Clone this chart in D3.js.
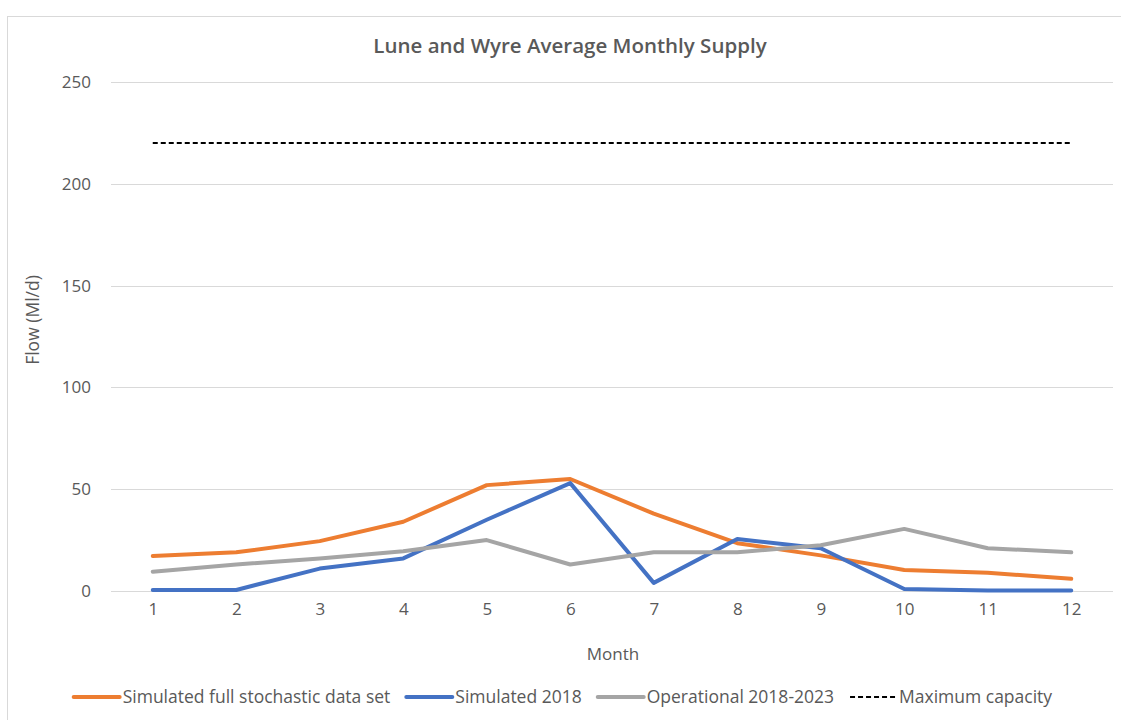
<!DOCTYPE html>
<html>
<head>
<meta charset="utf-8">
<script src="https://cdn.jsdelivr.net/npm/d3@7"></script>
<style>
  body { margin: 0; background: #fff; }
  text { font-family: "Open Sans", "Noto Sans", sans-serif; fill: #595959; }
</style>
</head>
<body>
<svg id="chart" width="1121" height="720"></svg>
<script>
var months = [1, 2, 3, 4, 5, 6, 7, 8, 9, 10, 11, 12];
var stochastic = [17.2, 19, 24.5, 34, 52, 55, 38, 23.5, 17.5, 10.3, 9, 6];
var sim2018 = [0.5, 0.5, 11, 16, 35, 53, 4, 25.5, 21, 1, 0.3, 0.3];
var operational = [9.5, 13, 16, 19.5, 25, 13, 19, 19, 22.5, 30.5, 21, 19];
var maxCapacity = [220, 220, 220, 220, 220, 220, 220, 220, 220, 220, 220, 220];
var yTicks = [0, 50, 100, 150, 200, 250];

var series = [
  {name: "Simulated full stochastic data set", values: stochastic, color: "#ED7D31", dash: null, w: 4},
  {name: "Simulated 2018", values: sim2018, color: "#4472C4", dash: null, w: 4},
  {name: "Operational 2018-2023", values: operational, color: "#A5A5A5", dash: null, w: 4},
  {name: "Maximum capacity", values: maxCapacity, color: "#000000", dash: "5,3", w: 2}
];

var svg = d3.select("#chart");

// chart frame
svg.append("rect").attr("x", 7.5).attr("y", 16.5).attr("width", 1130).attr("height", 720)
  .attr("fill", "none").attr("stroke", "#d9d9d9");

var x = d3.scalePoint().domain(months).range([111, 1113]).padding(0.5),
    y = d3.scaleLinear().domain([0, 250]).range([591, 82]);

// gridlines
svg.append("g").selectAll("line").data(yTicks).join("line")
  .attr("x1", 111).attr("x2", 1113)
  .attr("y1", d => Math.round(y(d)) + 0.5).attr("y2", d => Math.round(y(d)) + 0.5)
  .attr("stroke", "#d9d9d9").attr("stroke-width", 1);

// y axis labels
var ya = svg.append("g").attr("transform", "translate(91,0)")
  .call(d3.axisLeft(y).tickValues(yTicks).tickSize(0).tickPadding(0));
ya.select(".domain").remove();
ya.selectAll("text").attr("font-size", 17).style("font-family", "'Open Sans', sans-serif").attr("fill", "#595959");

// x axis labels
var xa = svg.append("g").attr("transform", "translate(0,600)")
  .call(d3.axisBottom(x).tickSize(0).tickPadding(0));
xa.select(".domain").remove();
xa.selectAll("text").attr("font-size", 17).style("font-family", "'Open Sans', sans-serif").attr("fill", "#595959").attr("dy", "0.9em");

// lines
var line = d3.line().x((d, i) => x(months[i])).y(d => y(d));
svg.append("g").selectAll("path").data(series).join("path")
  .attr("d", d => line(d.values))
  .attr("fill", "none")
  .attr("stroke", d => d.color)
  .attr("stroke-width", d => d.w)
  .attr("stroke-dasharray", d => d.dash)
  .attr("stroke-linejoin", "round")
  .attr("stroke-linecap", d => d.dash ? "butt" : "round");

// titles
svg.append("text").attr("x", 570).attr("y", 53).attr("text-anchor", "middle")
  .attr("font-size", 20.5).attr("font-weight", 600).text("Lune and Wyre Average Monthly Supply");
svg.append("text").attr("x", 613).attr("y", 660).attr("text-anchor", "middle")
  .attr("font-size", 17).text("Month");
svg.append("text").attr("transform", "translate(39,320) rotate(-90)").attr("text-anchor", "middle")
  .attr("font-size", 17.5).text("Flow (Ml/d)");

// legend
var lg = svg.append("g");
var items = lg.selectAll("g").data(series).join("g");
items.append("line").attr("x1", 0).attr("x2", 46).attr("y1", 0).attr("y2", 0)
  .attr("stroke", d => d.color).attr("stroke-width", d => d.w)
  .attr("stroke-dasharray", d => d.dash)
  .attr("stroke-linecap", d => d.dash ? "butt" : "round");
items.append("text").attr("x", 49).attr("y", 6).attr("font-size", 17.5).text(d => d.name);
var pos = 0;
items.each(function() {
  d3.select(this).attr("transform", "translate(" + pos + ",697)");
  pos += this.getBBox().width + 16;
});
var total = pos - 16;
lg.attr("transform", "translate(" + (563 - total / 2) + ",0)");
</script>
</body>
</html>
